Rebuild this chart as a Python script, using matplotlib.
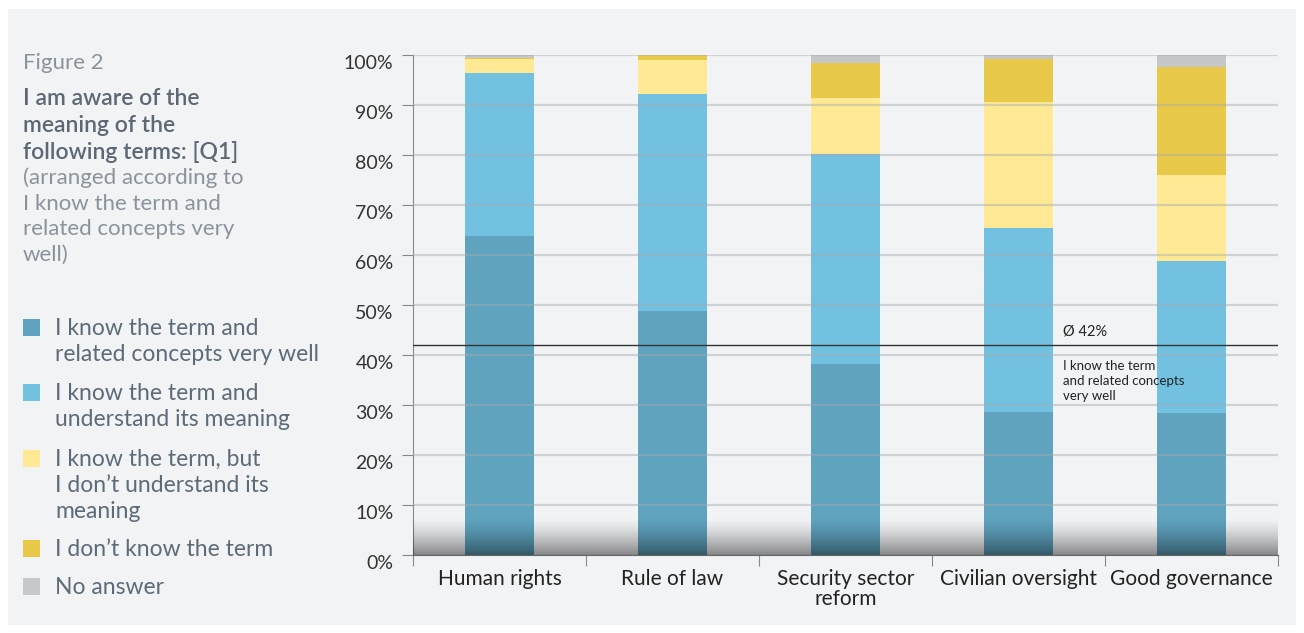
import numpy as np
import matplotlib.pyplot as plt
from matplotlib.patches import Rectangle

plt.rcParams['font.family'] = ['Lato', 'DejaVu Sans']

categories = ["Human rights", "Rule of law", "Security sector\nreform",
              "Civilian oversight", "Good governance"]
know_very_well = [63.8, 48.8, 38.2, 28.6, 28.4]
understand = [32.6, 43.4, 42.0, 36.8, 30.4]
dont_understand = [2.8, 6.8, 11.3, 25.2, 17.2]
dont_know = [0.3, 1.0, 7.0, 8.6, 21.7]
no_answer = [0.5, 0.0, 1.5, 0.8, 2.3]
average = 42

series = [know_very_well, understand, dont_understand, dont_know, no_answer]
labels = ["I know the term and\nrelated concepts very well",
          "I know the term and\nunderstand its meaning",
          "I know the term, but\nI don\u2019t understand its\nmeaning",
          "I don\u2019t know the term",
          "No answer"]
colors = ["#5fa3bf", "#72c1e0", "#ffe994", "#e8c94a", "#c6c7c9"]

bg = "#f2f3f5"
fig = plt.figure(figsize=(13.04, 6.33), dpi=100, facecolor="white")
fig.patches.append(Rectangle((8 / 1304, 8 / 633), 1288 / 1304, 616 / 633,
                             transform=fig.transFigure, facecolor=bg,
                             edgecolor="none", zorder=-10))

ax = fig.add_axes([413 / 1304, 78 / 633, 865 / 1304, 500 / 633])
ax.set_facecolor(bg)
x = np.arange(len(categories))
bottom = np.zeros(len(categories))
for vals, c in zip(series, colors):
    ax.bar(x, vals, 0.4, bottom=bottom, color=c, zorder=2)
    bottom += np.array(vals)

ax.set_xlim(-0.5, 4.5)
ax.set_ylim(0, 100)
ax.set_yticks(range(0, 101, 10))
ax.set_yticklabels([f"{v}%" for v in range(0, 101, 10)], fontsize=14,
                   color="#333333", va="top")
for v in range(10, 101, 10):
    ax.axhline(v, color="#a6aaae", lw=1.6, alpha=0.45, zorder=3)

ax.set_xticks(np.arange(-0.5, 5, 1))
ax.set_xticklabels([])
ax.set_xticks(x, minor=True)
ax.set_xticklabels(categories, minor=True, fontsize=15, color="#222222", linespacing=1.0)
ax.tick_params(axis="x", which="minor", length=0, pad=10)
ax.tick_params(axis="x", which="major", length=8, color="#888888", direction="out")
ax.tick_params(axis="y", length=8, color="#888888", pad=6)
for s in ["top", "right"]:
    ax.spines[s].set_visible(False)
ax.spines["left"].set_color("#888888")
ax.spines["bottom"].set_color("#666666")

# dark gradient at the base
grad = np.zeros((100, 2, 4))
t = np.linspace(0, 1, 100) ** 1.4
grad[:, :, 3] = (t * 0.45)[:, None]
ax.imshow(grad, extent=[-0.5, 4.5, 0, 7.5], aspect="auto", zorder=4, origin="upper")
ax.set_xlim(-0.5, 4.5)
ax.set_ylim(0, 100)

ax.axhline(average, color="#333333", lw=1, zorder=5)
ax.text(3.26, average + 1.9, f"\u00d8 {average}%", fontsize=10.5, color="#222222", zorder=6)
ax.text(3.26, average - 3.0, "I know the term\nand related concepts\nvery well",
        fontsize=9.5, color="#222222", va="top", linespacing=1.32, zorder=6)

# left-side texts
fig.text(23 / 1304, 1 - 63 / 633, "Figure 2", fontsize=16, color="#8a939b", va="center")
fig.text(23 / 1304, 1 - 88 / 633, "I am aware of the\nmeaning of the\nfollowing terms: [Q1]",
         fontsize=16.5, color="#5d6874", va="top", linespacing=1.33, fontweight="semibold")
fig.text(23 / 1304, 1 - 167 / 633,
         "(arranged according to\nI know the term and\nrelated concepts very\nwell)",
         fontsize=16, color="#8a939b", va="top", linespacing=1.37)

legend_y = [327, 392, 458, 548, 586]
for yy, lab, c in zip(legend_y, labels, colors):
    fig.patches.append(Rectangle((23 / 1304, 1 - (yy + 9) / 633), 17 / 1304, 17 / 633,
                                 transform=fig.transFigure, facecolor=c, edgecolor="none"))
    fig.text(55 / 1304, 1 - (yy - 9) / 633, lab, fontsize=16.5, color="#5d6b78",
             va="top", linespacing=1.3)

fig.savefig("out.png", dpi=100, facecolor="white")
